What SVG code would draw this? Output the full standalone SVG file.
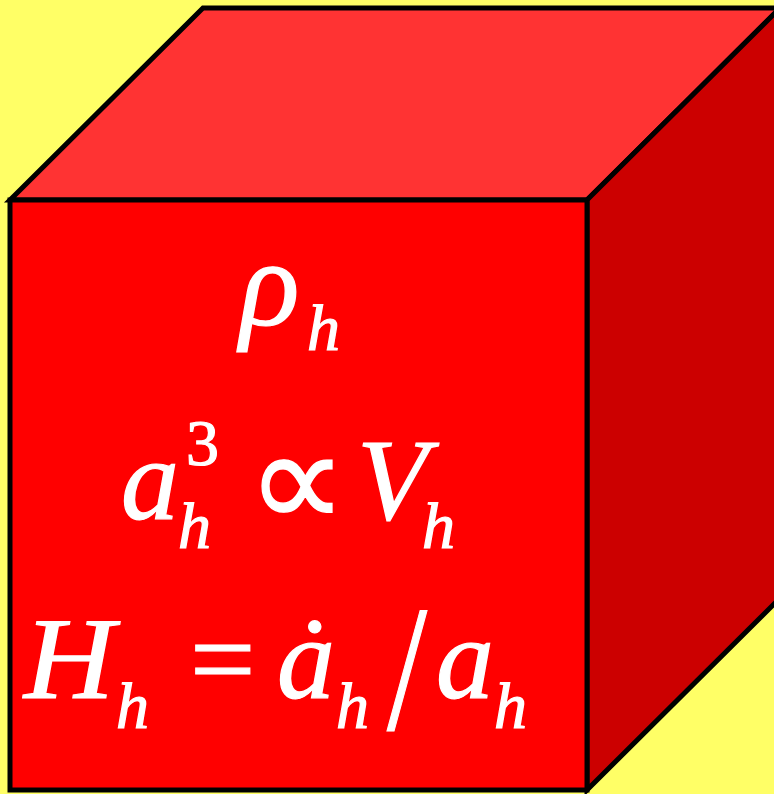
<svg xmlns="http://www.w3.org/2000/svg" width="774" height="794" viewBox="0 0 774 794">
  <style>
    .face { stroke: #000; stroke-width: 5; stroke-linejoin: miter; }
    .eq { font-family: "Liberation Serif", "Times New Roman", serif; fill: #fff; stroke: #fff; stroke-width: 1.2; }
    .i { font-style: italic; }
    .big { font-size: 116px; }
    .sub { font-size: 66px; }
  </style>
  <rect x="0" y="0" width="774" height="794" fill="#FFFF66"/>
  <g id="cube">
    <polygon id="top" class="face" fill="#FF3333" points="10,200 203,8 780,8 587,200"/>
    <polygon id="right" class="face" fill="#CC0000" points="587,200 780,8 780,598 587,790"/>
    <rect id="front" class="face" fill="#FF0000" x="10" y="200" width="577" height="590"/>
  </g>
  <g id="equations" class="eq">
    <g id="line1">
      <text class="i" font-size="124" x="240" y="325">ρ</text>
      <text class="i sub" x="307" y="350">h</text>
    </g>
    <g id="line2">
      <text class="i big" x="121" y="519">a</text>
      <text class="sub" x="186" y="465">3</text>
      <text class="i sub" x="178" y="548">h</text>
      <text font-size="140" x="247" y="528">∝</text>
      <text class="i big" x="357" y="519">V</text>
      <text class="i sub" x="422" y="548">h</text>
    </g>
    <g id="line3">
      <text class="i big" transform="translate(24,698) scale(1.08,1)">H</text>
      <text class="i sub" x="116" y="728">h</text>
      <text class="big" x="190" y="698">=</text>
      <text class="i big" x="277" y="698">ȧ</text>
      <text class="i sub" x="336" y="728">h</text>
      <text font-size="180" transform="translate(387,729) scale(0.8,1)">/</text>
      <text class="i big" x="436" y="698">a</text>
      <text class="i sub" x="494" y="728">h</text>
    </g>
  </g>
</svg>
